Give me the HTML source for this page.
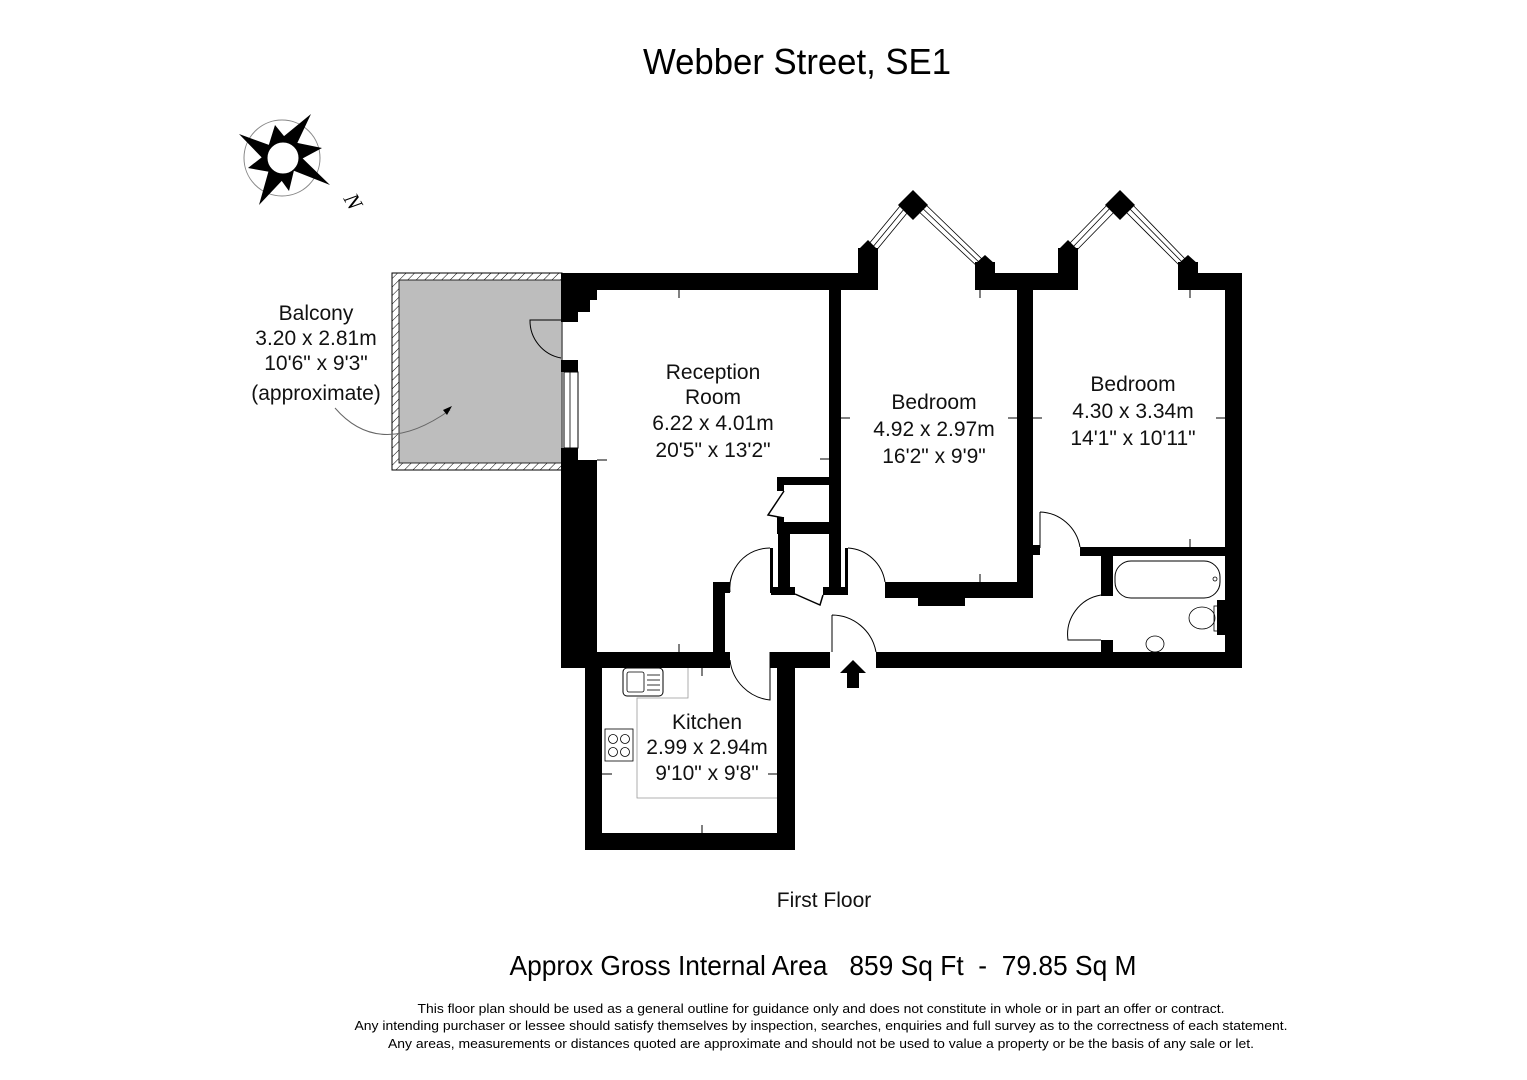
<!DOCTYPE html>
<html><head><meta charset="utf-8"><style>
html,body{margin:0;padding:0;background:#fff;}
svg{display:block;font-family:"Liberation Sans",Arial,sans-serif;}
</style></head><body>
<svg width="1527" height="1080" viewBox="0 0 1527 1080" xmlns="http://www.w3.org/2000/svg">
<defs>
<pattern id="hatch" width="6" height="6" patternUnits="userSpaceOnUse" patternTransform="rotate(45)">
<rect width="6" height="6" fill="#fff"/><line x1="0" y1="0" x2="0" y2="6" stroke="#000" stroke-width="1"/></pattern>
</defs>
<text x="797" y="74" font-size="36" text-anchor="middle" textLength="308" lengthAdjust="spacingAndGlyphs">Webber Street, SE1</text>

<!-- compass -->
<g>
<circle cx="282" cy="158" r="38" fill="none" stroke="#888" stroke-width="1"/>
<polygon points="239,134 272,146 311,114 294,150 330,185 292,170 259,205 270,166" fill="#000"/>
<polygon points="275,125 288,141 322,148 296,162 289,191 276,173 248,168 266,154" fill="#000"/>
<circle cx="283" cy="158" r="16" fill="#fff" stroke="#000" stroke-width="1"/>
<text x="352" y="208" font-size="22" font-family="Liberation Serif,serif" font-style="italic" transform="rotate(60 352 202)" text-anchor="middle">N</text>
</g>

<!-- balcony -->
<rect x="392" y="273" width="170" height="197" fill="url(#hatch)" stroke="#000" stroke-width="1"/>
<rect x="399" y="280" width="163" height="183" fill="#bdbdbd" stroke="#000" stroke-width="0.8"/>
<text font-size="21" text-anchor="middle" fill="#111"><tspan x="316" y="320">Balcony</tspan><tspan x="316" y="345">3.20 x 2.81m</tspan><tspan x="316" y="370">10'6" x 9'3"</tspan><tspan x="316" y="400">(approximate)</tspan></text>
<path d="M335 408 Q380 460 450 410" fill="none" stroke="#666" stroke-width="1"/>
<polygon points="452,406 443,410 447,415" fill="#000"/>

<g fill="#000">
<polygon points="561,273 597,273 597,300 590,300 590,312 578,312 578,322 561,322"/>
<rect x="561" y="360" width="17" height="12"/>
<polygon points="561,448 578,448 578,460 597,460 597,668 561,668"/>
<rect x="561" y="273" width="297" height="17"/>
<rect x="858" y="248" width="20" height="42"/>
<polygon points="858,250 868,240 878,250"/>
<polygon points="913,190 928,205 913,220 898,205"/>
<rect x="975" y="262" width="20" height="28"/>
<polygon points="975,264 985,255 995,264"/>
<rect x="995" y="273" width="63" height="17"/>
<rect x="1058" y="248" width="20" height="42"/>
<polygon points="1058,250 1068,240 1078,250"/>
<polygon points="1120,190 1135,205 1120,220 1105,205"/>
<rect x="1178" y="262" width="20" height="28"/>
<polygon points="1178,264 1188,255 1198,264"/>
<rect x="1198" y="273" width="44" height="17"/>
<rect x="1225" y="273" width="17" height="395"/>
<rect x="876" y="652" width="366" height="16"/>
<rect x="770" y="652" width="60" height="16"/>
<rect x="561" y="652" width="169" height="16"/>
<rect x="585" y="652" width="17" height="198"/>
<rect x="585" y="833" width="210" height="17"/>
<rect x="777" y="652" width="18" height="198"/>
<rect x="713" y="582" width="12" height="86"/>
<rect x="713" y="582" width="17" height="11"/>
<rect x="829" y="290" width="12" height="305"/>
<rect x="777" y="477" width="55" height="8"/>
<rect x="777" y="477" width="7" height="14"/>
<rect x="777" y="517" width="7" height="8"/>
<rect x="777" y="522" width="55" height="12"/>
<rect x="778" y="522" width="12" height="72"/>
<rect x="771" y="587" width="24" height="8"/>
<rect x="823" y="587" width="25" height="8"/>
<rect x="770" y="548" width="3" height="45"/>
<rect x="845" y="548" width="3" height="45"/>
<rect x="885" y="582" width="148" height="16"/>
<rect x="918" y="596" width="47" height="10"/>
<rect x="1017" y="290" width="16" height="308"/>
<rect x="1033" y="545" width="7" height="10"/>
<rect x="1080" y="547" width="162" height="9"/>
<rect x="1101" y="556" width="12" height="40"/>
<rect x="1101" y="640" width="12" height="12"/>
<rect x="1217" y="600" width="8" height="35"/>
<polygon points="853,660 866,673 859,673 859,688 847,688 847,673 840,673"/>
</g>

<g stroke="#000" stroke-width="0.8" fill="none">
<line x1="868" y1="245" x2="905" y2="200"/><line x1="875" y1="252" x2="912" y2="207"/><line x1="872" y1="248" x2="909" y2="203"/>
<line x1="921" y1="200" x2="985" y2="262"/><line x1="915" y1="208" x2="979" y2="268"/><line x1="918" y1="204" x2="982" y2="265"/>
<line x1="1068" y1="245" x2="1112" y2="200"/><line x1="1075" y1="252" x2="1119" y2="207"/><line x1="1072" y1="248" x2="1115" y2="203"/>
<line x1="1128" y1="200" x2="1188" y2="262"/><line x1="1122" y1="208" x2="1182" y2="268"/><line x1="1125" y1="204" x2="1185" y2="265"/>
<rect x="564" y="372" width="14" height="76" fill="#fff" stroke-width="1"/><line x1="570" y1="372" x2="570" y2="448"/>
<path d="M561 320 L530 320 A38 38 0 0 0 561 358" stroke-width="1"/>
<path d="M770 548 A40 40 0 0 0 730 592" stroke-width="1"/>
<path d="M770 652 L770 700 A45 45 0 0 1 730 660" stroke-width="1"/>
<path d="M848 548 A40 40 0 0 1 885 582" stroke-width="1"/>
<path d="M832 615 L832 652 M832 615 A45 45 0 0 1 876 652" stroke-width="1"/>
<path d="M1040 512 L1040 548 M1040 512 A42 42 0 0 1 1080 547" stroke-width="1"/>
<path d="M1101 595 A40 40 0 0 0 1068 640 L1101 640" stroke-width="1"/>
<path d="M784 491 L768 515 L784 518" stroke-width="1.5"/>
<path d="M795 594 L820 605 L823 595" stroke-width="1.5"/>
<polyline points="688,668 688,698 637,698 637,798 777,798" stroke="#999"/>
<rect x="1115" y="561" width="105" height="37" rx="16" stroke-width="1"/>
<circle cx="1215" cy="579" r="2"/>
<ellipse cx="1202" cy="618" rx="13" ry="11"/>
<rect x="1214" y="606" width="6" height="25"/>
<ellipse cx="1155" cy="644" rx="9" ry="8"/>
<rect x="623" y="668" width="40" height="28" rx="4" stroke-width="1"/>
<rect x="627" y="672" width="17" height="20" rx="2"/>
<line x1="647" y1="675" x2="660" y2="675"/><line x1="647" y1="680" x2="660" y2="680"/><line x1="647" y1="685" x2="660" y2="685"/><line x1="647" y1="690" x2="660" y2="690"/>
<rect x="605" y="729" width="28" height="32"/>
<circle cx="613" cy="739" r="4.5"/><circle cx="625" cy="739" r="4.5"/><circle cx="613" cy="752" r="4.5"/><circle cx="625" cy="752" r="4.5"/>
</g>

<g stroke="#000" stroke-width="1" fill="#000">
<line x1="679" y1="290" x2="679" y2="298"/><line x1="679" y1="644" x2="679" y2="652"/>
<line x1="597" y1="460" x2="607" y2="460"/><line x1="820" y1="459" x2="829" y2="459"/>
<line x1="841" y1="418" x2="850" y2="418"/><line x1="1008" y1="418" x2="1017" y2="418"/>
<line x1="980" y1="290" x2="980" y2="298"/><line x1="980" y1="574" x2="980" y2="582"/>
<line x1="1033" y1="418" x2="1042" y2="418"/><line x1="1216" y1="418" x2="1225" y2="418"/>
<line x1="1190" y1="290" x2="1190" y2="298"/><line x1="1190" y1="539" x2="1190" y2="547"/>
<line x1="702" y1="668" x2="702" y2="676"/><line x1="702" y1="825" x2="702" y2="833"/>
<line x1="602" y1="774" x2="612" y2="774"/><line x1="768" y1="774" x2="777" y2="774"/>
</g>

<g font-size="21" text-anchor="middle" fill="#111">
<text><tspan x="713" y="379">Reception</tspan><tspan x="713" y="404">Room</tspan><tspan x="713" y="430">6.22 x 4.01m</tspan><tspan x="713" y="457">20'5" x 13'2"</tspan></text>
<text><tspan x="934" y="409">Bedroom</tspan><tspan x="934" y="436">4.92 x 2.97m</tspan><tspan x="934" y="463">16'2" x 9'9"</tspan></text>
<text><tspan x="1133" y="391">Bedroom</tspan><tspan x="1133" y="418">4.30 x 3.34m</tspan><tspan x="1133" y="445">14'1" x 10'11"</tspan></text>
<text><tspan x="707" y="729">Kitchen</tspan><tspan x="707" y="754">2.99 x 2.94m</tspan><tspan x="707" y="780">9'10" x 9'8"</tspan></text>
<text x="824" y="907" font-size="21">First Floor</text>
</g>
<text x="823" y="975" font-size="28" text-anchor="middle" textLength="627" lengthAdjust="spacingAndGlyphs" xml:space="preserve">Approx Gross Internal Area   859 Sq Ft  -  79.85 Sq M</text>
<g font-size="13" text-anchor="middle">
<text x="821" y="1013" textLength="807" lengthAdjust="spacingAndGlyphs">This floor plan should be used as a general outline for guidance only and does not constitute in whole or in part an offer or contract.</text>
<text x="821" y="1030" textLength="933" lengthAdjust="spacingAndGlyphs">Any intending purchaser or lessee should satisfy themselves by inspection, searches, enquiries and full survey as to the correctness of each statement.</text>
<text x="821" y="1048" textLength="866" lengthAdjust="spacingAndGlyphs">Any areas, measurements or distances quoted are approximate and should not be used to value a property or be the basis of any sale or let.</text>
</g>
</svg>
</body></html>
